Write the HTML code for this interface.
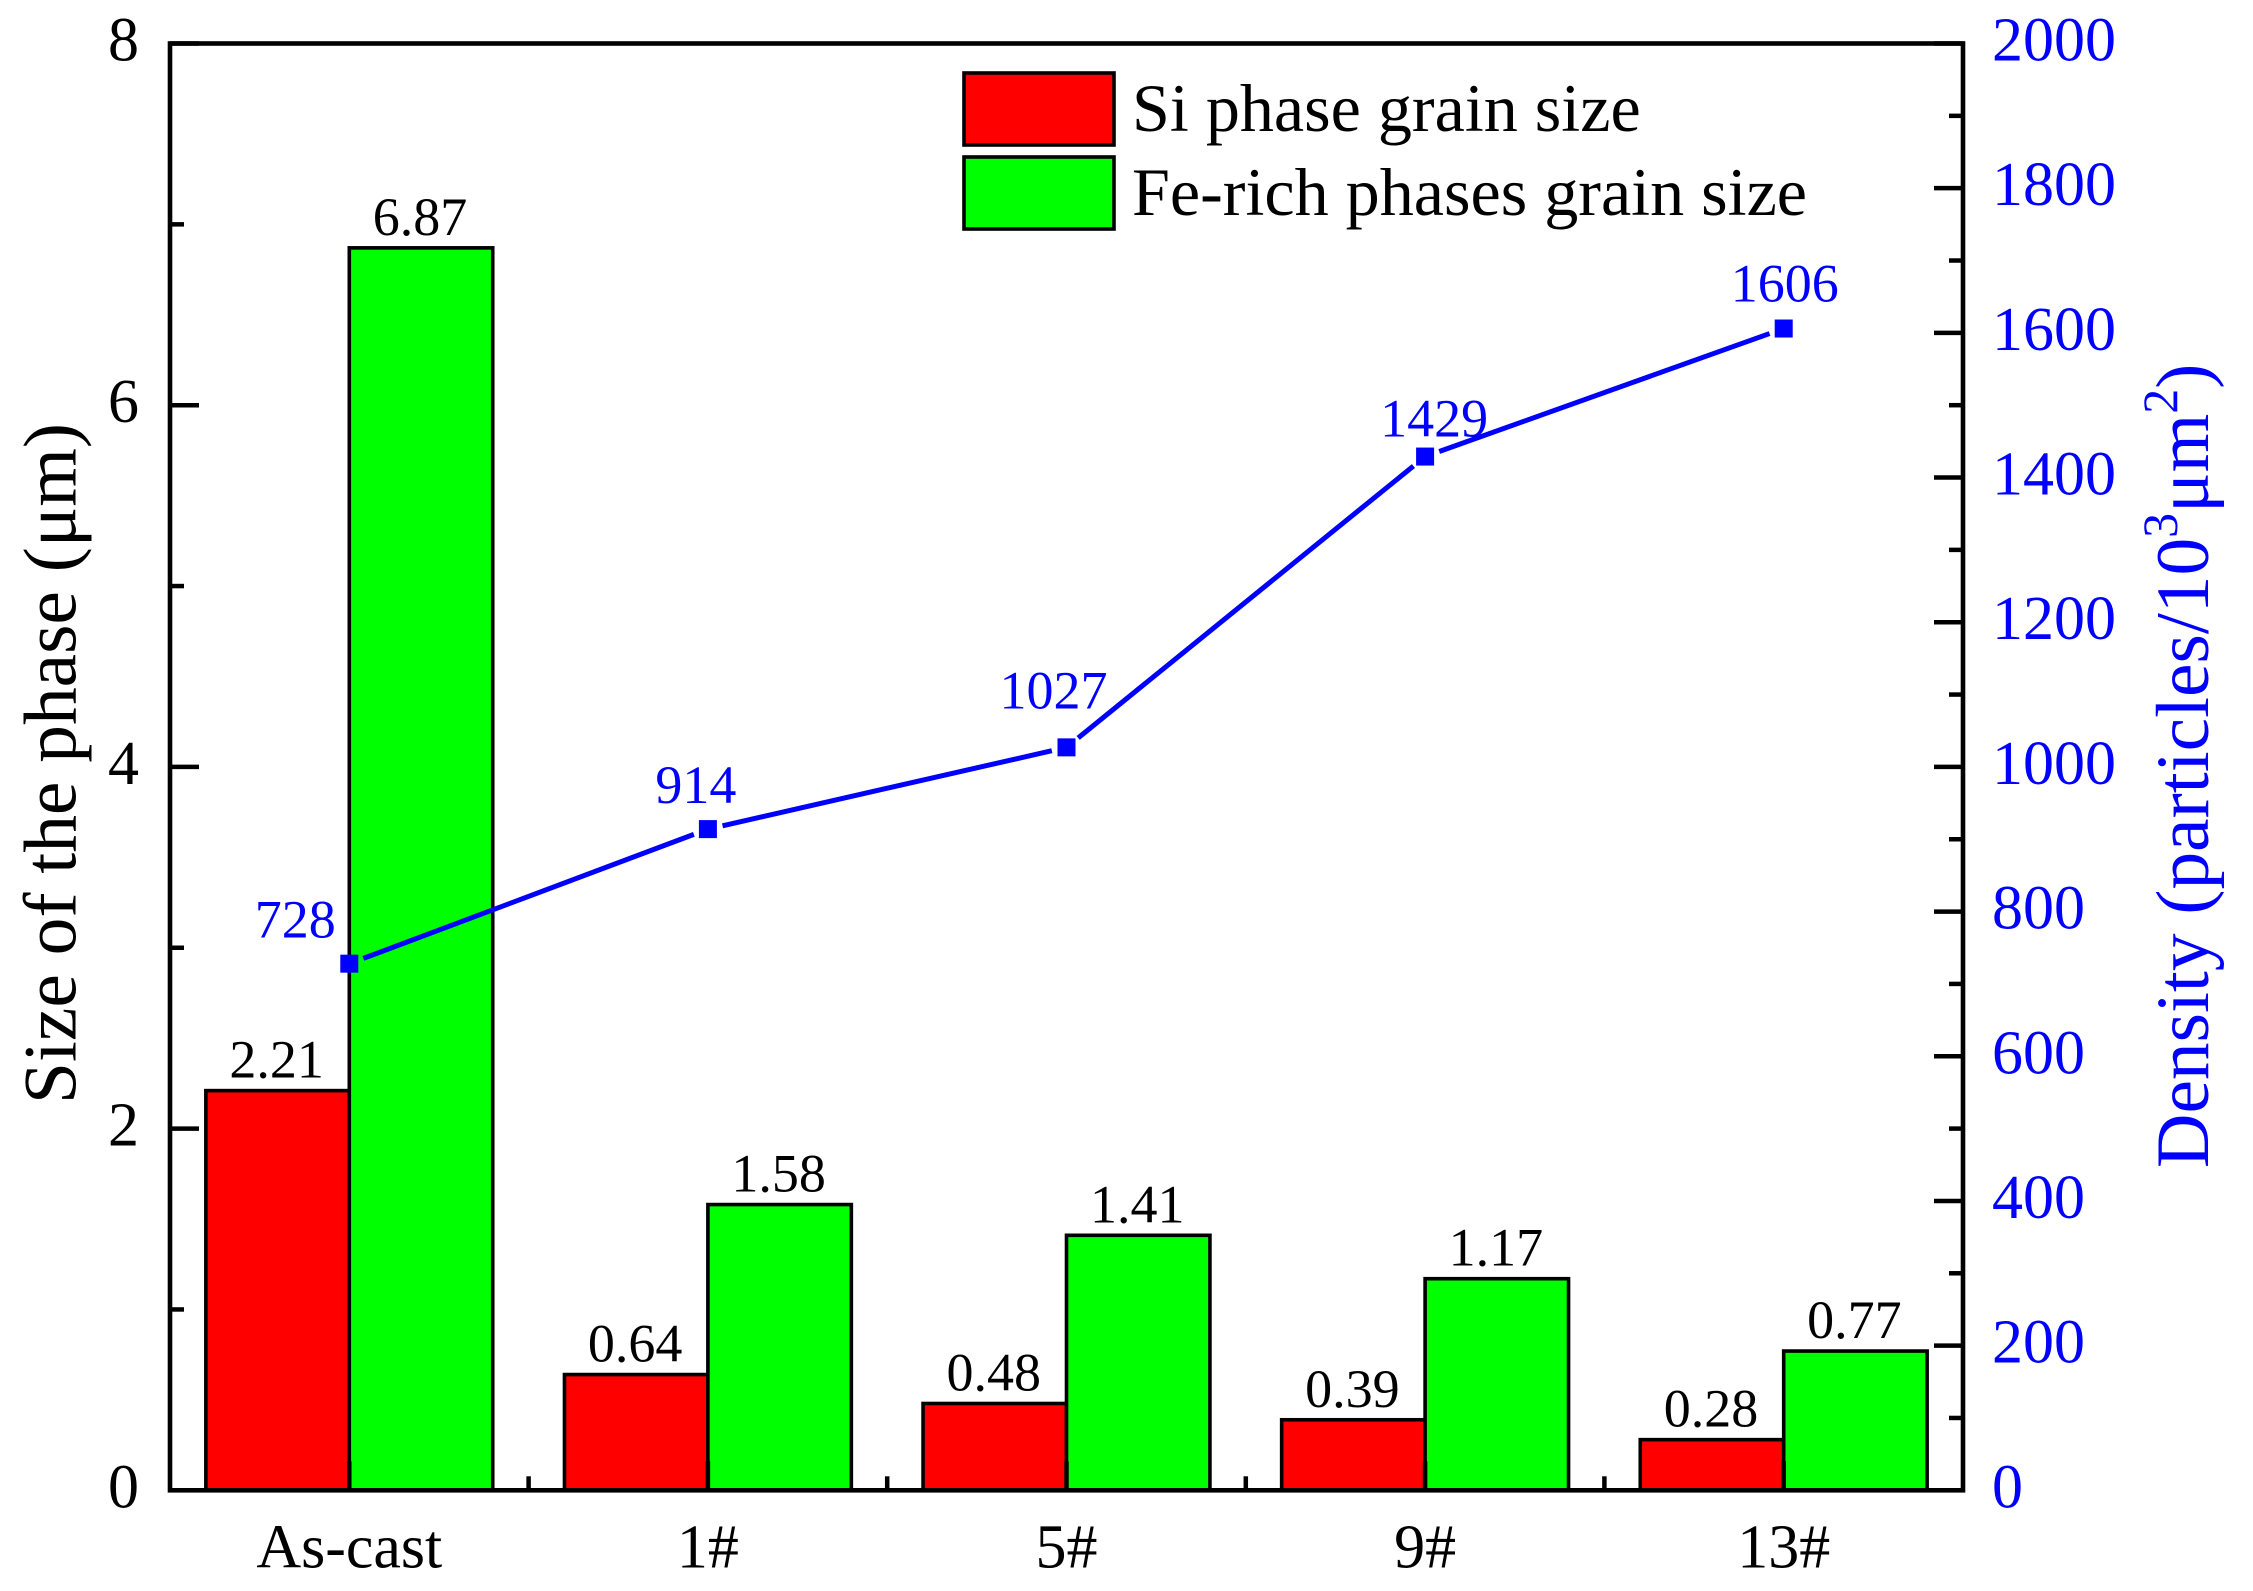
<!DOCTYPE html>
<html lang="en">
<head>
<meta charset="utf-8">
<title>Phase size and density chart</title>
<style>
html,body{margin:0;padding:0;background:#fff;}
svg{display:block;font-family:"Liberation Serif",serif;}
</style>
</head>
<body>
<svg id="chart" xmlns="http://www.w3.org/2000/svg" width="2253" height="1591" viewBox="0 0 2253 1591">
  <rect x="0" y="0" width="2253" height="1591" fill="#fff"/>
  <g id="bars"></g>
  <g id="axes"></g>
  <g id="line"></g>
  <g id="labels"></g>

  <text transform="translate(75.5 1104) rotate(-90)" font-size="75.4" fill="#000">Size of the phase (μm)</text>
  <text transform="translate(2208 1168) rotate(-90)" font-size="75.4" fill="#0000ff">Density (particles/10<tspan font-size="50" dy="-31">3</tspan><tspan dy="31">μm</tspan><tspan font-size="50" dy="-31">2</tspan><tspan dy="31">)</tspan></text>

  <g>
    <rect x="964" y="73" width="150" height="72" fill="#ff0000" stroke="#000" stroke-width="3.6"/>
    <text x="1132" y="131" font-size="68.1" fill="#000">Si phase grain size</text>
    <rect x="964" y="157" width="150" height="72" fill="#00ff00" stroke="#000" stroke-width="3.6"/>
    <text x="1132" y="215" font-size="68.1" fill="#000">Fe-rich phases grain size</text>
  </g>
</svg>
<script>
// ---- chart data ----
const categories = ["As-cast", "1#", "5#", "9#", "13#"];
const siGrainSize = [2.21, 0.64, 0.48, 0.39, 0.28];
const feGrainSize = [6.87, 1.58, 1.41, 1.17, 0.77];
const density = [728, 914, 1027, 1429, 1606];
const leftTickLabels = [0, 2, 4, 6, 8];
const leftMinorTicks = [1, 3, 5, 7];
const rightTickLabels = [0, 200, 400, 600, 800, 1000, 1200, 1400, 1600, 1800, 2000];
const rightMinorTicks = [100, 300, 500, 700, 900, 1100, 1300, 1500, 1700, 1900];

// ---- layout ----
const NS = "http://www.w3.org/2000/svg";
const plot = { left: 170, right: 1963, top: 43.5, bottom: 1490.3 };
const leftMax = 8, rightMax = 2000;
const majorLen = 29, minorLen = 14, axisW = 4.6;
const bandW = (plot.right - plot.left) / categories.length;
const barW = bandW * 0.4;

function xBand(i) { return plot.left + bandW * (i + 0.5); }
function yLeft(v) { return plot.bottom - (v / leftMax) * (plot.bottom - plot.top); }
function yRight(v) { return plot.bottom - (v / rightMax) * (plot.bottom - plot.top); }

function make(tag, attrs, parent, text) {
  const el = document.createElementNS(NS, tag);
  for (const k in attrs) el.setAttribute(k, attrs[k]);
  if (text !== undefined) el.textContent = text;
  parent.appendChild(el);
  return el;
}

const barsG = document.getElementById('bars');
const axesG = document.getElementById('axes');
const lineG = document.getElementById('line');
const labelsG = document.getElementById('labels');

// ---- bars ----
categories.forEach(function (cat, i) {
  const c = xBand(i);
  const r = make('rect', { x: c - barW, y: yLeft(siGrainSize[i]), width: barW, height: plot.bottom - yLeft(siGrainSize[i]), fill: '#ff0000', stroke: '#000', 'stroke-width': 3.6 }, barsG);
  
  
  const g = make('rect', { x: c, y: yLeft(feGrainSize[i]), width: barW, height: plot.bottom - yLeft(feGrainSize[i]), fill: '#00ff00', stroke: '#000', 'stroke-width': 3.6 }, barsG);
  
  
  const rl = make('text', { x: c - barW / 2 - 1, y: yLeft(siGrainSize[i]) - 13, 'font-size': 54, 'text-anchor': 'middle', fill: '#000' }, labelsG, siGrainSize[i].toFixed(2));
  
  
  const gl = make('text', { x: c + barW / 2 - 1, y: yLeft(feGrainSize[i]) - 13, 'font-size': 54, 'text-anchor': 'middle', fill: '#000' }, labelsG, feGrainSize[i].toFixed(2));
  
  
});

// ---- axes frame and ticks ----
const frame = make('rect', { x: plot.left, y: plot.top, width: plot.right - plot.left, height: plot.bottom - plot.top, fill: 'none', stroke: '#000', 'stroke-width': axisW }, axesG);



function tick(x1, y1, x2, y2, name) {
  const t = make('line', { x1: x1, y1: y1, x2: x2, y2: y2, stroke: '#000', 'stroke-width': 4.5 }, axesG);
  
  
}

leftTickLabels.forEach(function (v) {
  const y = yLeft(v);
  tick(plot.left, y, plot.left + majorLen, y, 'left-major-tick');
  const t = make('text', { x: 139, y: y + 17, 'font-size': 62, 'text-anchor': 'end', fill: '#000' }, axesG, String(v));
  
  
});
leftMinorTicks.forEach(function (v) {
  const y = yLeft(v);
  tick(plot.left, y, plot.left + minorLen, y, 'left-minor-tick');
});
rightTickLabels.forEach(function (v) {
  const y = yRight(v);
  tick(plot.right, y, plot.right - majorLen, y, 'right-major-tick');
  const t = make('text', { x: 1992, y: y + 17, 'font-size': 62, fill: '#0000ff' }, axesG, String(v));
  
  
});
rightMinorTicks.forEach(function (v) {
  const y = yRight(v);
  tick(plot.right, y, plot.right - minorLen, y, 'right-minor-tick');
});
categories.forEach(function (cat, i) {
  const x = xBand(i);
  tick(x, plot.bottom, x, plot.bottom - majorLen, 'x-major-tick');
  if (i < categories.length - 1) {
    const m = x + bandW / 2;
    tick(m, plot.bottom, m, plot.bottom - minorLen, 'x-minor-tick');
  }
  const t = make('text', { x: x, y: 1567.5, 'font-size': 62, 'text-anchor': 'middle', fill: '#000' }, axesG, cat);
  
  
});

// ---- density line ----
const gap = 15;
density.forEach(function (v, i) {
  if (i < density.length - 1) {
    const x1 = xBand(i), y1 = yRight(v), x2 = xBand(i + 1), y2 = yRight(density[i + 1]);
    const len = Math.hypot(x2 - x1, y2 - y1);
    const ux = (x2 - x1) / len, uy = (y2 - y1) / len;
    const seg = make('line', { x1: x1 + ux * gap, y1: y1 + uy * gap, x2: x2 - ux * gap, y2: y2 - uy * gap, stroke: '#0000ff', 'stroke-width': 5 }, lineG);
    
    
  }
});
density.forEach(function (v, i) {
  const p = make('rect', { x: xBand(i) - 9, y: yRight(v) - 9, width: 18, height: 18, fill: '#0000ff' }, lineG);
  
  
  const nudgeX = [-54, -12, -13, 9, 1][i];
  const nudgeY = [-26, -26, -39, -20, -27][i];
  const l = make('text', { x: xBand(i) + nudgeX, y: yRight(v) + nudgeY, 'font-size': 54, 'text-anchor': 'middle', fill: '#0000ff' }, labelsG, String(v));
  
  
});
</script>
</body>
</html>
